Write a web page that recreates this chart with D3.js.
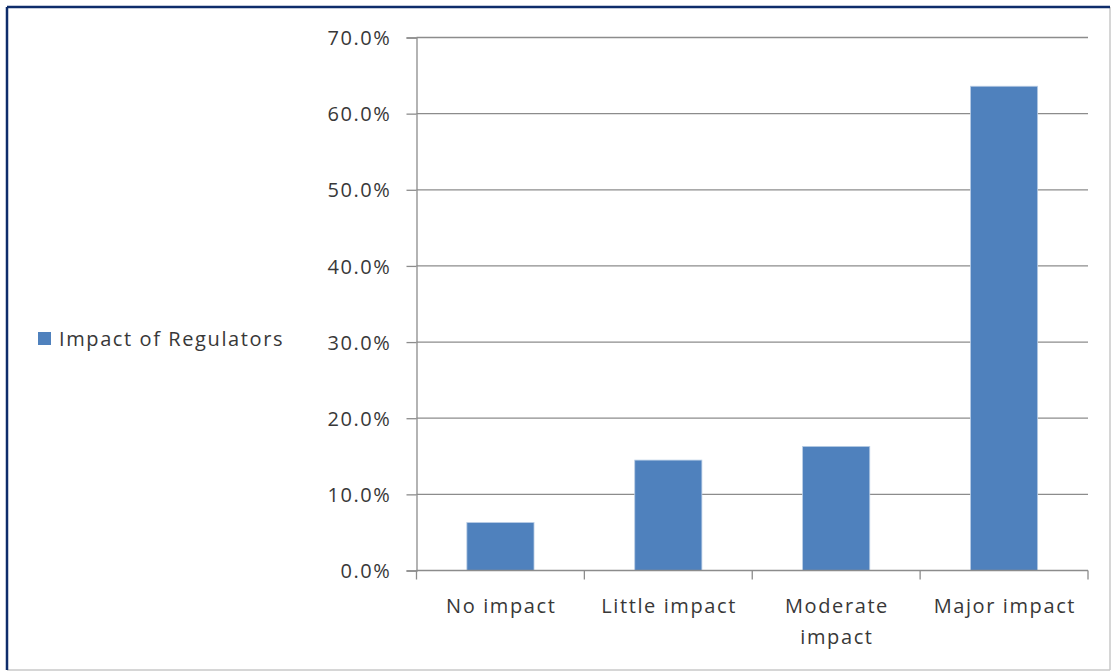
<!DOCTYPE html>
<html>
<head>
<meta charset="utf-8">
<script src="https://cdn.jsdelivr.net/npm/d3@7"></script>
<style>
  html, body { margin: 0; padding: 0; background: #fff; }
  svg text { font-family: "Open Sans", sans-serif; fill: #383838; }
</style>
</head>
<body>
<svg id="chart" width="1113" height="672"></svg>
<script>
// Survey responses: perceived impact of regulators
const categories = [["No impact"], ["Little impact"], ["Moderate", "impact"], ["Major impact"]];
const seriesName = "Impact of Regulators";
const values = [0.063, 0.145, 0.163, 0.636];
const yTicks = [0, 0.1, 0.2, 0.3, 0.4, 0.5, 0.6, 0.7];

const svg = d3.select("#chart");
const W = 1113, H = 672;
const plot = { left: 416.5, right: 1088, top: 37.5, bottom: 570.5 };
const barColor = "#4f81bd";
const gridColor = "#8c8c8c";
const fontSize = 20, tracking = 1.6;

// frame around the chart area
svg.append("rect").attr("x", 0).attr("y", 0).attr("width", W).attr("height", H).attr("fill", "#fff");
svg.append("line").attr("x1", 7).attr("y1", 670).attr("x2", 1110).attr("y2", 670)
  .attr("stroke", "#c8c8c8").attr("stroke-width", 1.5);
svg.append("line").attr("x1", 1110).attr("y1", 7).attr("x2", 1110).attr("y2", 670)
  .attr("stroke", "#c8c8c8").attr("stroke-width", 1.5);
svg.append("line").attr("x1", 7).attr("y1", 7).attr("x2", 1110).attr("y2", 7)
  .attr("stroke", "#0f2d6b").attr("stroke-width", 2.5);
svg.append("line").attr("x1", 7).attr("y1", 7).attr("x2", 7).attr("y2", 670)
  .attr("stroke", "#0f2d6b").attr("stroke-width", 2.5);

const x = d3.scaleBand()
  .domain(categories.map(c => c.join(" ")))
  .range([plot.left, plot.right])
  .paddingInner(0.6)
  .paddingOuter(0.3);

const y = d3.scaleLinear().domain([0, 0.7]).range([plot.bottom, plot.top]);

// horizontal gridlines
svg.append("g").selectAll("line").data(yTicks.slice(1)).join("line")
  .attr("x1", plot.left).attr("x2", plot.right)
  .attr("y1", d => y(d)).attr("y2", d => y(d))
  .attr("stroke", gridColor).attr("stroke-width", 1.3);

// y axis
const yAxis = svg.append("g").attr("transform", `translate(${plot.left},0)`)
  .call(d3.axisLeft(y).tickValues(yTicks).tickFormat(d3.format(".1%")).tickSize(10).tickPadding(15));
yAxis.select(".domain").attr("stroke", gridColor).attr("stroke-width", 1.3);
yAxis.selectAll(".tick line").attr("stroke", gridColor).attr("stroke-width", 1.3);
yAxis.selectAll(".tick text").attr("font-size", fontSize).attr("letter-spacing", tracking)
  .attr("fill", "#383838").attr("dy", "0.36em").attr("font-family", "'Open Sans', sans-serif");

// bars
svg.append("g").selectAll("rect").data(values).join("rect")
  .attr("x", (d, i) => x(categories[i].join(" ")))
  .attr("width", x.bandwidth())
  .attr("y", d => y(d))
  .attr("height", d => y(0) - y(d))
  .attr("fill", barColor)
  .attr("stroke", "#b9cde5").attr("stroke-width", 0.8);

// x axis with ticks at category boundaries
const boundaries = d3.range(categories.length + 1).map(i => plot.left + i * (plot.right - plot.left) / categories.length);
svg.append("line").attr("x1", plot.left).attr("x2", plot.right)
  .attr("y1", plot.bottom).attr("y2", plot.bottom)
  .attr("stroke", gridColor).attr("stroke-width", 1.3);
svg.append("g").selectAll("line").data(boundaries).join("line")
  .attr("x1", d => d).attr("x2", d => d)
  .attr("y1", plot.bottom).attr("y2", plot.bottom + 9)
  .attr("stroke", gridColor).attr("stroke-width", 1.3);

// category labels (wrapped onto two lines where needed)
const xl = svg.append("g").selectAll("text").data(categories).join("text")
  .attr("x", d => x(d.join(" ")) + x.bandwidth() / 2 + tracking / 2)
  .attr("y", 613)
  .attr("text-anchor", "middle")
  .attr("font-size", fontSize).attr("letter-spacing", tracking);
xl.selectAll("tspan").data(d => d).join("tspan")
  .attr("x", function() { return this.parentNode.getAttribute("x"); })
  .attr("dy", (d, i) => i === 0 ? 0 : 31)
  .text(d => d);

// legend
const lg = svg.append("g");
lg.append("rect").attr("x", 38).attr("y", 332).attr("width", 13).attr("height", 13).attr("fill", barColor);
lg.append("text").attr("x", 59).attr("y", 346).attr("font-size", fontSize).attr("letter-spacing", tracking)
  .text(seriesName);
</script>
</body>
</html>
